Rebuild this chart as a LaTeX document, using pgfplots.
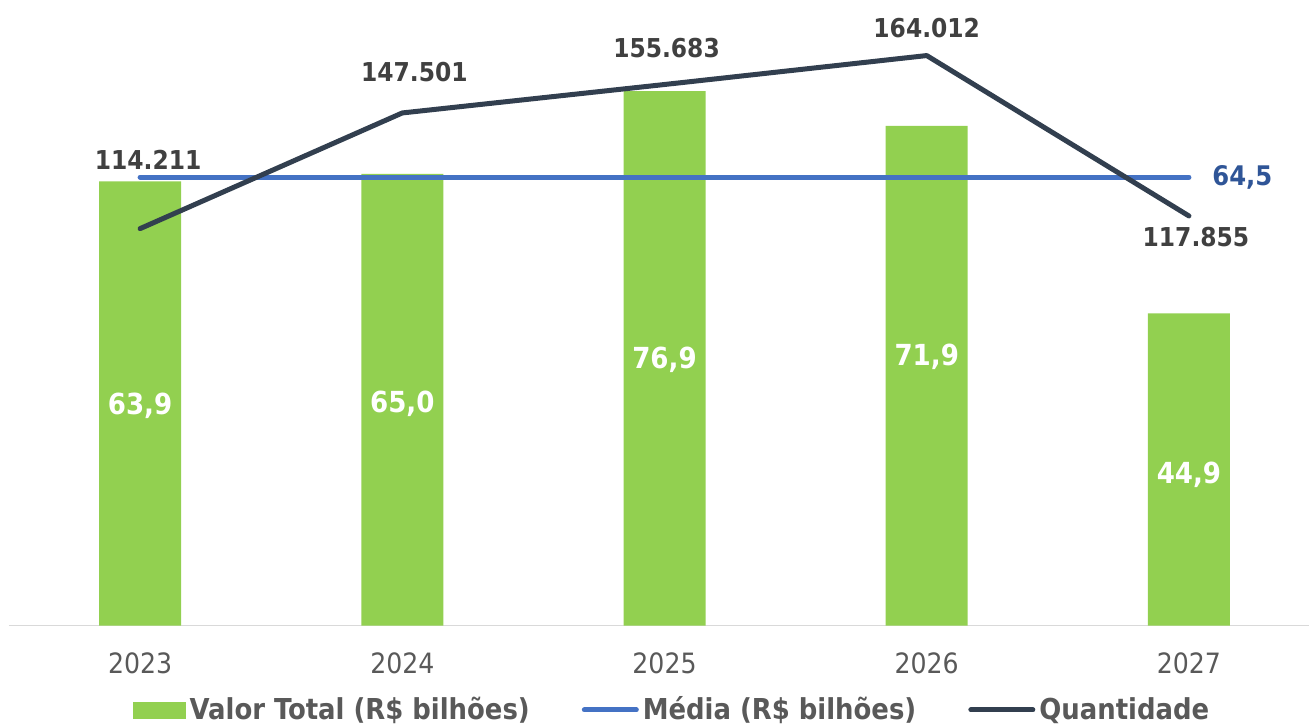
\documentclass[border=0pt]{standalone}
\usepackage{pgfplots}
\usepackage{pgfplotstable}
\pgfplotsset{compat=1.18}
\usepackage{fontspec}
\setmainfont{DejaVu Sans}
\newfontfamily\cond{DejaVu Sans Condensed}
\definecolor{barGreen}{HTML}{92D050}
\definecolor{mediaBlue}{HTML}{4472C4}
\definecolor{mediaLab}{HTML}{2F5597}
\definecolor{qtdDark}{HTML}{323F4F}
\definecolor{labGray}{HTML}{404040}
\definecolor{tickGray}{HTML}{595959}
\definecolor{baseGray}{HTML}{D9D9D9}

\pgfplotstableread{
x y dx dy lab
0 114211 4 34.5 114.211
1 147501 6 20.5 147.501
2 155683 1 18.25 155.683
3 164012 0 13.75 164.012
4 117855 3.5 -10.5 117.855
}\qtdata

\begin{document}
\begin{tikzpicture}
\useasboundingbox (0,0) rectangle (654.5pt,362pt);
\begin{axis}[
  at={(4.5pt,49.25pt)}, anchor=south west,
  scale only axis, width=650pt, height=312.75pt,
  xmin=-0.5, xmax=4.458, ymin=0, ymax=90,
  hide y axis,
  axis x line*=bottom,
  x axis line style={draw=baseGray, line width=0.9pt, -},
  xtick={0,1,2,3,4},
  xticklabels={2023,2024,2025,2026,2027},
  major tick length=0pt,
  xticklabel style={anchor=center, yshift=-18.75pt, font=\cond\fontsize{14}{16}\selectfont, text=tickGray},
  clip=false,
]
\addplot[ybar, bar width=41pt, bar shift=0pt, fill=barGreen, draw=none, forget plot]
  coordinates {(0,63.9)(1,65.0)(2,76.9)(3,71.9)(4,44.9)};
\addplot[draw=none, mark=none, forget plot, nodes near coords, point meta=explicit symbolic,
  every node near coord/.append style={anchor=base, inner sep=0pt, font=\cond\bfseries\fontsize{14.5}{16}\selectfont, text=white}]
  coordinates {(0,30.29)[63,9] (1,30.58)[65,0] (2,36.91)[76,9] (3,37.34)[71,9] (4,20.5)[44,9]};
\addplot[mediaBlue, line width=2.5pt, line cap=round, forget plot]
  coordinates {(0,64.5)(4,64.5)}
  node[pos=1, anchor=west, inner sep=0pt, xshift=10.5pt, font=\cond\bfseries\fontsize{13.5}{16}\selectfont, text=mediaLab] {64,5};
\end{axis}
\begin{axis}[
  at={(4.5pt,49.25pt)}, anchor=south west,
  scale only axis, width=650pt, height=312.75pt,
  xmin=-0.5, xmax=4.458, ymin=0, ymax=180000,
  hide x axis, hide y axis,
  clip=false,
  legend columns=3,
  legend style={at={(0.5108,-0.135)}, anchor=center, draw=none, fill=none,
    font=\cond\bfseries\fontsize{14.4}{16}\selectfont, text=tickGray,
    /tikz/every even column/.append style={column sep=24pt}},
  legend cell align=left,
]
\addlegendimage{legend image code/.code={\fill[barGreen] (-3pt,-4pt) rectangle (23pt,4pt);}}
\addlegendentry{Valor Total (R\$ bilhões)}
\addlegendimage{legend image code/.code={\draw[mediaBlue, line width=2.5pt, line cap=round] (-1pt,0pt) -- (25pt,0pt);}}
\addlegendentry{Média (R\$ bilhões)}
\addlegendimage{legend image code/.code={\draw[qtdDark, line width=2.5pt, line cap=round] (-6pt,0pt) -- (25pt,0pt);}}
\addlegendentry{Quantidade}
\addplot[qtdDark, line width=2.5pt, line cap=round, line join=round, forget plot,
  nodes near coords, point meta=explicit symbolic,
  visualization depends on={\thisrow{dx} \as \dx},
  visualization depends on={\thisrow{dy} \as \dy},
  every node near coord/.append style={anchor=center, inner sep=0pt, xshift=\dx pt, yshift=\dy pt,
    font=\cond\bfseries\fontsize{13}{16}\selectfont, text=labGray}]
  table[x=x, y=y, meta=lab] {\qtdata};
\end{axis}
\end{tikzpicture}
\end{document}
